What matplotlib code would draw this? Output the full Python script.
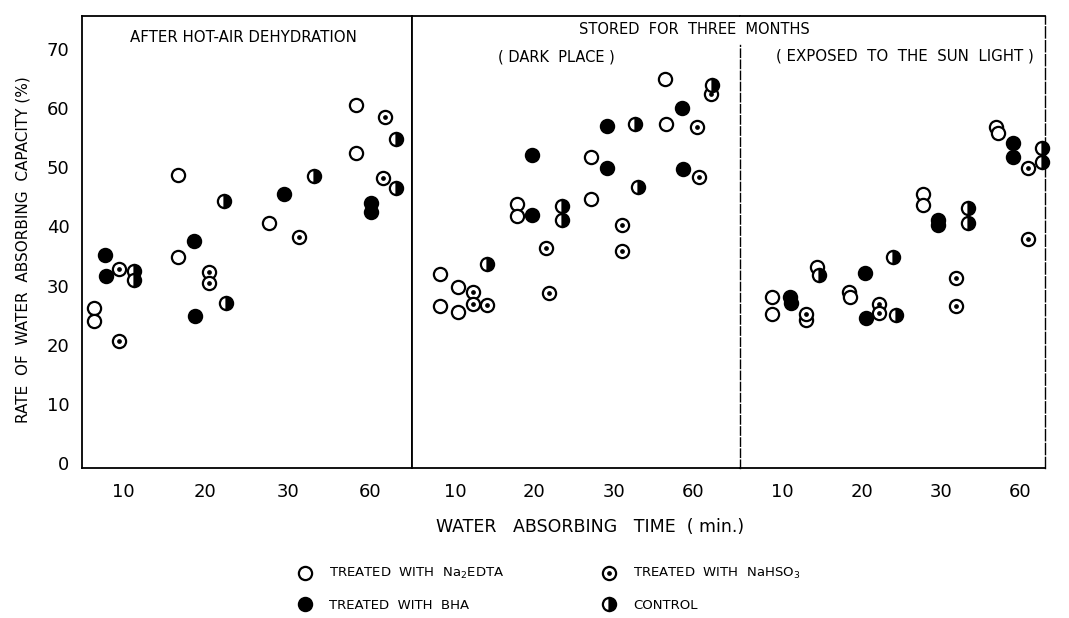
import matplotlib
matplotlib.use("Agg")
import matplotlib.pyplot as plt
from matplotlib.lines import Line2D
from matplotlib.legend_handler import HandlerTuple

# time slots on each panel: position 0..3 = 10, 20, 30, 60 min
time_labels = ["10", "20", "30", "60"]
y_ticks = [0, 10, 20, 30, 40, 50, 60, 70]

# (slot position, rate of water absorbing capacity %)
# after hot-air dehydration
dehyd_edta = [(2.83, 60.4), (2.83, 52.3), (0.67, 48.6), (0.67, 34.8),
              (1.77, 40.5), (-0.35, 26.2), (-0.35, 24.0)]
dehyd_hso3 = [(3.18, 58.4), (3.16, 48.1), (-0.05, 32.8), (-0.05, 20.7),
              (1.04, 32.3), (1.04, 30.4), (2.14, 38.2)]
dehyd_bha = [(-0.22, 35.2), (-0.21, 31.6), (0.86, 37.5), (0.87, 24.9),
             (1.96, 45.4), (3.01, 43.9), (3.01, 42.4)]
dehyd_ctrl = [(0.13, 32.5), (0.13, 30.9), (1.22, 44.2), (1.25, 27.1),
              (2.32, 48.5), (3.32, 54.7), (3.32, 46.4)]

# stored three months, dark place
dark_edta = [(2.65, 64.8), (2.66, 57.2), (1.72, 51.7), (1.72, 44.6),
             (0.78, 43.7), (0.78, 41.7), (-0.19, 32.0), (-0.19, 26.6),
             (0.04, 29.8), (0.04, 25.6)]
dark_hso3 = [(3.22, 62.3), (3.05, 56.7), (3.08, 48.3), (2.11, 40.2),
             (2.11, 35.8), (1.15, 36.3), (1.18, 28.8), (0.23, 28.9),
             (0.23, 26.9), (0.41, 26.7)]
dark_bha = [(0.97, 52.0), (0.97, 41.9), (1.92, 57.0), (1.92, 49.8),
            (2.86, 59.9), (2.87, 49.6)]
dark_ctrl = [(3.24, 63.9), (2.27, 57.2), (2.30, 46.6), (1.35, 43.4),
             (1.35, 41.1), (0.41, 33.6)]

# stored three months, exposed to the sun light
sun_edta = [(2.70, 56.7), (2.72, 55.7), (1.77, 45.4), (1.77, 43.6),
            (-0.13, 28.1), (-0.13, 25.2), (0.84, 28.9), (0.85, 28.1),
            (0.30, 24.2), (0.44, 33.1)]
sun_hso3 = [(3.10, 49.8), (3.10, 37.9), (2.19, 31.3), (2.19, 26.6),
            (1.22, 26.9), (1.22, 25.4), (0.30, 25.2)]
sun_bha = [(2.91, 54.0), (2.91, 51.7), (1.97, 41.1), (1.97, 40.2),
           (1.04, 32.1), (1.06, 24.6), (0.09, 28.1), (0.11, 27.1)]
sun_ctrl = [(3.28, 53.2), (3.28, 50.8), (2.34, 43.1), (2.34, 40.5),
            (1.39, 34.8), (1.43, 25.1), (0.46, 31.8)]

W, H = 1069, 618
fig = plt.figure(figsize=(W / 100, H / 100), dpi=100)

ms = 9.5
open_kw = dict(marker="o", ms=ms, mfc="white", mec="black", mew=1.6, ls="none")
dot_kw = dict(marker="o", ms=2.4, mfc="black", mec="black", ls="none")
bha_kw = dict(marker="o", ms=ms, mfc="black", mec="black", mew=1.6, ls="none")
ctrl_kw = dict(marker="o", ms=ms, fillstyle="right", mfc="black",
               mfcalt="white", mec="black", mew=1.6, ls="none")


def scatter(ax, pts, **kw):
    xs = [p[0] for p in pts]
    ys = [p[1] for p in pts]
    ax.plot(xs, ys, clip_on=False, **kw)


def panel(rect, xlim, edta, hso3, bha, ctrl):
    ax = fig.add_axes(rect)
    scatter(ax, edta, **open_kw)
    scatter(ax, hso3, **open_kw)
    scatter(ax, hso3, **dot_kw)
    scatter(ax, bha, **bha_kw)
    scatter(ax, ctrl, **ctrl_kw)
    ax.set_xlim(*xlim)
    ax.set_ylim(-0.8, 75.5)
    ax.set_xticks(range(4))
    ax.set_xticklabels(time_labels)
    ax.tick_params(axis="x", length=0, pad=11, labelsize=13)
    for s in ax.spines.values():
        s.set_linewidth(1.3)
    return ax


bottom, height = 150 / H, 452 / H
ax1 = panel([82 / W, bottom, 330 / W, height], (-0.50, 3.51),
            dehyd_edta, dehyd_hso3, dehyd_bha, dehyd_ctrl)
ax2 = panel([412 / W, bottom, 328 / W, height], (-0.54, 3.59),
            dark_edta, dark_hso3, dark_bha, dark_ctrl)
ax3 = panel([740 / W, bottom, 305 / W, height], (-0.54, 3.32),
            sun_edta, sun_hso3, sun_bha, sun_ctrl)

ax1.set_yticks(y_ticks)
ax1.tick_params(axis="y", length=0, pad=9, labelsize=13)
for ax in (ax2, ax3):
    ax.set_yticks([])
ax2.spines["right"].set_visible(False)
# dashed divider between the two storage conditions stops below the heading
ax3.spines["left"].set_linestyle((0, (6, 2)))
ax3.spines["left"].set_linewidth(1.0)
ax3.spines["left"].set_bounds(-0.8, 70.6)
ax3.spines["right"].set_linestyle((0, (8, 2)))
ax3.spines["right"].set_linewidth(1.0)

fig.text(23 / W, 1 - 250 / H, "RATE  OF  WATER  ABSORBING  CAPACITY (%)",
         rotation=90, ha="center", va="center", fontsize=11)

# panel headings
fig.text(243 / W, 1 - 38 / H, "AFTER HOT-AIR DEHYDRATION", ha="center",
         va="center", fontsize=10.8)
fig.text(694 / W, 1 - 30 / H, "STORED  FOR  THREE  MONTHS", ha="center",
         va="center", fontsize=10.5)
fig.text(556 / W, 1 - 57 / H, "( DARK  PLACE )", ha="center", va="center",
         fontsize=10.5)
fig.text(905 / W, 1 - 56 / H, "( EXPOSED  TO  THE  SUN  LIGHT )", ha="center",
         va="center", fontsize=10.8)

fig.text(590 / W, 1 - 527 / H, "WATER   ABSORBING   TIME  ( min.)",
         ha="center", va="center", fontsize=12.5)

h_edta = Line2D([], [], **open_kw)
h_hso3 = (Line2D([], [], **open_kw), Line2D([], [], **dot_kw))
h_bha = Line2D([], [], **bha_kw)
h_ctrl = Line2D([], [], **ctrl_kw)
leg_kw = dict(loc="center left", frameon=False, fontsize=9.5, borderpad=0,
              borderaxespad=0, handlelength=1.4, handletextpad=1.1,
              labelspacing=1.3, handler_map={tuple: HandlerTuple(ndivide=1)})
fig.legend([h_edta, h_bha],
           [r"TREATED  WITH  Na$_2$EDTA", "TREATED  WITH  BHA"],
           bbox_to_anchor=(296 / W, 1 - 589 / H), **leg_kw)
fig.legend([h_hso3, h_ctrl],
           [r"TREATED  WITH  NaHSO$_3$", "CONTROL"],
           bbox_to_anchor=(600 / W, 1 - 589 / H), **leg_kw)

fig.savefig("out.png", dpi=100)
